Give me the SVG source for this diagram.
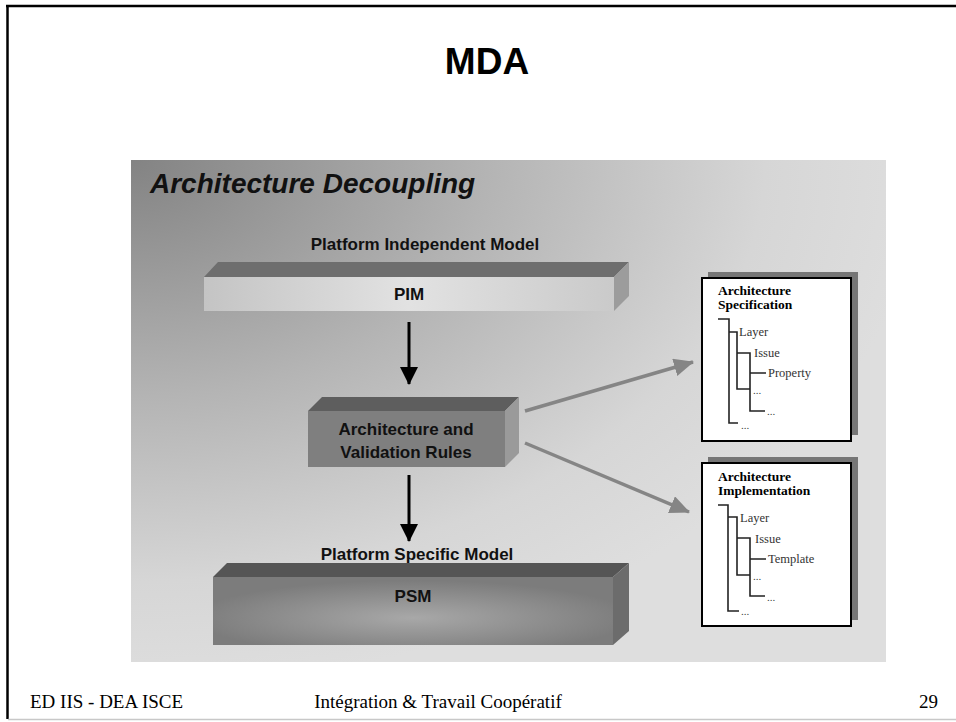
<svg xmlns="http://www.w3.org/2000/svg" width="956" height="722" viewBox="0 0 956 722">
  <defs>
    <radialGradient id="panelGrad" cx="0" cy="0" r="1.05" gradientUnits="objectBoundingBox">
      <stop offset="0" stop-color="#838383"/>
      <stop offset="0.45" stop-color="#b4b4b4"/>
      <stop offset="0.8" stop-color="#d6d6d6"/>
      <stop offset="1" stop-color="#dedede"/>
    </radialGradient>
    <linearGradient id="pimFront" x1="0" y1="0" x2="1" y2="0">
      <stop offset="0" stop-color="#c4c4c4"/>
      <stop offset="0.5" stop-color="#e2e2e2"/>
      <stop offset="1" stop-color="#cacaca"/>
    </linearGradient>
    <radialGradient id="psmFront" cx="0.5" cy="0.6" r="0.55">
      <stop offset="0" stop-color="#a8a8a8"/>
      <stop offset="1" stop-color="#7c7c7c"/>
    </radialGradient>
    <marker id="blackHead" markerUnits="userSpaceOnUse" markerWidth="18" markerHeight="18" refX="17" refY="9" orient="auto">
      <path d="M0,0 L18,9 L0,18 Z" fill="#000"/>
    </marker>
    <marker id="grayHead" markerUnits="userSpaceOnUse" markerWidth="20" markerHeight="18" refX="19" refY="9" orient="auto">
      <path d="M0,0 L20,9 L0,18 Z" fill="#858585"/>
    </marker>
    <style>
      .sans { font-family: "Liberation Sans", Arial, sans-serif; }
      .lbl { font-family: "Liberation Sans", Arial, sans-serif; font-weight: bold; font-size: 17px; fill: #111; text-anchor: middle; }
      .tree { fill: none; stroke: #222; stroke-width: 1.6; }
      .titem { font-family: "Liberation Serif", "Times New Roman", serif; font-size: 12.5px; fill: #333; }
      .tdots { font-family: "Liberation Serif", "Times New Roman", serif; font-size: 11px; fill: #444; }
      .dtitle { font-family: "Liberation Serif", "Times New Roman", serif; font-size: 13.5px; font-weight: bold; fill: #000; }
      .foot { font-family: "Liberation Serif", "Times New Roman", serif; font-size: 19px; fill: #000; }
    </style>
  </defs>

  <rect x="0" y="0" width="956" height="722" fill="#ffffff"/>
  <!-- slide frame -->
  <line x1="6" y1="6" x2="956" y2="6" stroke="#000" stroke-width="2.5"/>
  <line x1="7.5" y1="5" x2="7.5" y2="719" stroke="#000" stroke-width="2.5"/>
  <line x1="8" y1="719.5" x2="956" y2="719.5" stroke="#c8c8c8" stroke-width="1.5"/>

  <text x="487" y="74" class="sans" font-size="37" font-weight="bold" text-anchor="middle" fill="#000">MDA</text>

  <!-- panel -->
  <rect x="131" y="160" width="755" height="502" fill="url(#panelGrad)"/>
  <text x="150" y="193" class="sans" font-size="28" font-weight="bold" font-style="italic" fill="#111">Architecture Decoupling</text>

  <g id="pim">
    <text x="425" y="250" class="lbl">Platform Independent Model</text>
    <polygon points="204,277 218,262 629,262 614,277" fill="#6e6e6e"/>
    <polygon points="614,277 629,262 629,296 614,311" fill="#9c9c9c"/>
    <rect x="204" y="277" width="410" height="34" fill="url(#pimFront)"/>
    <text x="409" y="300" class="lbl">PIM</text>
  </g>

  <g id="rules">
    <polygon points="308,411 322,397 519,397 505,411" fill="#5e5e5e"/>
    <polygon points="505,411 519,397 519,453 505,467" fill="#9a9a9a"/>
    <rect x="308" y="411" width="197" height="56" fill="#7f7f7f"/>
    <text x="406" y="435" class="lbl">Architecture and</text>
    <text x="406" y="458" class="lbl">Validation Rules</text>
  </g>

  <g id="psm">
    <text x="417" y="560" class="lbl">Platform Specific Model</text>
    <polygon points="213,577 227,563 629,563 613,577" fill="#555555"/>
    <polygon points="613,577 629,563 629,631 613,645" fill="#6c6c6c"/>
    <rect x="213" y="577" width="400" height="68" fill="url(#psmFront)"/>
    <text x="413" y="602" class="lbl">PSM</text>
  </g>

  <g id="spec">
    <rect x="708" y="272" width="150" height="163" fill="#767676"/>
    <rect x="702" y="278" width="149" height="163" fill="#ffffff" stroke="#000" stroke-width="2"/>
    <text x="718" y="295" class="dtitle">Architecture</text>
    <text x="718" y="309" class="dtitle">Specification</text>
    <path class="tree" d="M718,319 H729 V423 H738 M729,332 H737 V389 H750 M737,353 H750 V411 H765 M750,373 H766"/>
    <text x="739" y="336" class="titem">Layer</text>
    <text x="754" y="357" class="titem">Issue</text>
    <text x="768" y="377" class="titem">Property</text>
    <text x="753" y="394" class="tdots">...</text>
    <text x="767" y="415" class="tdots">...</text>
    <text x="741" y="429" class="tdots">...</text>
  </g>

  <g id="impl">
    <rect x="708" y="457" width="150" height="163" fill="#767676"/>
    <rect x="702" y="463" width="149" height="163" fill="#ffffff" stroke="#000" stroke-width="2"/>
    <text x="718" y="481" class="dtitle">Architecture</text>
    <text x="718" y="495" class="dtitle">Implementation</text>
    <path class="tree" d="M718,505 H728 V611 H739 M728,517 H737 V575 H750 M737,538 H750 V596 H765 M750,559 H766"/>
    <text x="740" y="522" class="titem">Layer</text>
    <text x="755" y="543" class="titem">Issue</text>
    <text x="768" y="563" class="titem">Template</text>
    <text x="753" y="580" class="tdots">...</text>
    <text x="767" y="601" class="tdots">...</text>
    <text x="741" y="615" class="tdots">...</text>
  </g>

  <g id="connectors">
    <line x1="409" y1="322" x2="409" y2="384" stroke="#000" stroke-width="3" marker-end="url(#blackHead)"/>
    <line x1="409" y1="475" x2="409" y2="541" stroke="#000" stroke-width="3" marker-end="url(#blackHead)"/>
    <line x1="525" y1="411" x2="693" y2="362" stroke="#858585" stroke-width="3.5" marker-end="url(#grayHead)"/>
    <line x1="525" y1="443" x2="689" y2="512" stroke="#858585" stroke-width="3.5" marker-end="url(#grayHead)"/>
  </g>

  <!-- footer -->
  <text x="30" y="708" class="foot">ED IIS - DEA ISCE</text>
  <text x="438" y="708" class="foot" text-anchor="middle">Intégration &amp; Travail Coopératif</text>
  <text x="938" y="708" class="foot" text-anchor="end">29</text>
</svg>
